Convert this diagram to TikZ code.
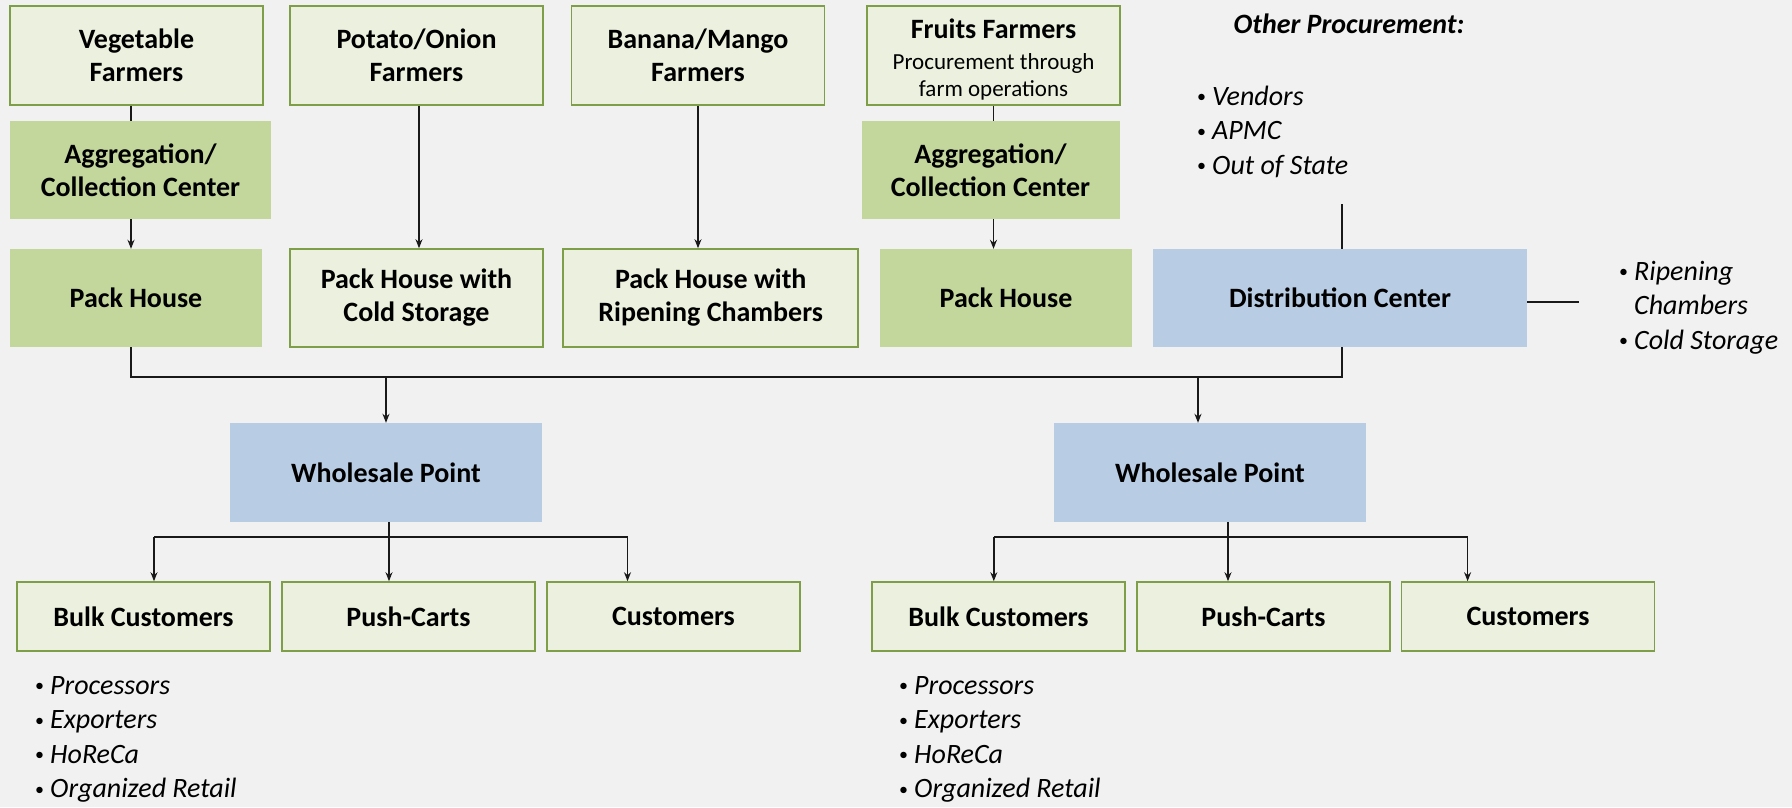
\documentclass[tikz,border=0pt]{standalone}
\usepackage{fontspec}
\setmainfont{Carlito}
\usetikzlibrary{arrows.meta}
\definecolor{bg}{HTML}{F1F1F1}
\definecolor{lgfill}{HTML}{EBF1DE}
\definecolor{lgdraw}{HTML}{7E9E48}
\definecolor{mgfill}{HTML}{C3D69B}
\definecolor{bfill}{HTML}{B8CCE4}
\newcommand\bul{\makebox[17pt][l]{\hspace{2pt}{\fontsize{18}{18}\selectfont\upshape\raisebox{2.5pt}{\textbullet}}}}
\newcommand\nob{\makebox[17pt][l]{}}
\begin{document}
\begin{tikzpicture}[x=1pt,y=-1pt,
  box/.style={rectangle, inner sep=2pt, align=center, font=\fontsize{28}{33}\selectfont\bfseries, text=black},
  lightbox/.style={box, fill=lgfill, draw=lgdraw, line width=1.6pt},
  midbox/.style={box, fill=mgfill},
  bluebox/.style={box, fill=bfill},
  conn/.style={line width=1.4pt, draw=black!90},
  arr/.style={conn, -{Stealth[length=9pt,width=7pt]}},
  blist/.style={inner sep=0pt, anchor=base west, font=\fontsize{28}{34.5}\selectfont\itshape}
]
\path[fill=bg] (0,0) rectangle (1792,807);
\useasboundingbox (0,0) rectangle (1792,807);

% row 1
\node[lightbox, minimum width=253pt, minimum height=99pt] (veg) at (136.5,55.5) {Vegetable\\Farmers};
\node[lightbox, minimum width=253pt, minimum height=99pt] (potato) at (416.5,55.5) {Potato/Onion\\Farmers};
\node[lightbox, minimum width=253pt, minimum height=99pt] (banana) at (698,55.5) {Banana/Mango\\Farmers};
\node[lightbox, minimum width=253pt, minimum height=99pt, font=\fontsize{23}{27.5}\selectfont] (fruits) at (993.5,55.5)
  {\rule{0pt}{28pt}{\fontsize{28}{30}\selectfont\bfseries Fruits Farmers}\\[3pt]Procurement through\\farm operations};

% row 2
\node[midbox, minimum width=261pt, minimum height=98pt] (agg1) at (140.5,170) {Aggregation/\\Collection Center};
\node[midbox, minimum width=258pt, minimum height=98pt] (agg2) at (990.5,170) {Aggregation/\\Collection Center};

% row 3
\node[midbox, minimum width=252pt, minimum height=98pt] (pack1) at (136,298) {Pack House};
\node[lightbox, minimum width=253pt, minimum height=98pt] (packcold) at (416.5,298) {Pack House with\\Cold Storage};
\node[lightbox, minimum width=295pt, minimum height=98pt] (packripen) at (710.75,298) {Pack House with\\Ripening Chambers};
\node[midbox, minimum width=252pt, minimum height=98pt] (pack2) at (1006,298) {Pack House};
\node[bluebox, minimum width=374pt, minimum height=98pt] (dc) at (1340,298) {Distribution Center};

% other procurement
\node[font=\fontsize{28}{33}\selectfont\bfseries\itshape, anchor=base, inner sep=0pt] (othertitle) at (1349,33) {Other Procurement:};
\node[blist] (othlist) at (1195,105) {\begin{tabular}[t]{@{}l@{}}\bul Vendors\\ \bul APMC\\ \bul Out of State\end{tabular}};
\node[blist] (dclist) at (1617,280) {\begin{tabular}[t]{@{}l@{}}\bul Ripening\\ \nob Chambers\\ \bul Cold Storage\end{tabular}};

% wholesale
\node[bluebox, minimum width=312pt, minimum height=99pt] (ws1) at (386,472.5) {Wholesale Point};
\node[bluebox, minimum width=312pt, minimum height=99pt] (ws2) at (1210,472.5) {Wholesale Point};

% bottom
\node[lightbox, minimum width=253pt, minimum height=69pt] (bulk1) at (143.5,616.5) {Bulk Customers};
\node[lightbox, minimum width=253pt, minimum height=69pt] (push1) at (408.5,616.5) {Push-Carts};
\node[lightbox, minimum width=253pt, minimum height=69pt] (cust1) at (673.5,616.5) {Customers};
\node[lightbox, minimum width=253pt, minimum height=69pt] (bulk2) at (998.5,616.5) {Bulk Customers};
\node[lightbox, minimum width=253pt, minimum height=69pt] (push2) at (1263.5,616.5) {Push-Carts};
\node[lightbox, minimum width=253pt, minimum height=69pt] (cust2) at (1528,616.5) {Customers};

\node[blist] (bl1) at (33,694) {\begin{tabular}[t]{@{}l@{}}\bul Processors\\ \bul Exporters\\ \bul HoReCa\\ \bul Organized Retail\end{tabular}};
\node[blist] (bl2) at (897,694) {\begin{tabular}[t]{@{}l@{}}\bul Processors\\ \bul Exporters\\ \bul HoReCa\\ \bul Organized Retail\end{tabular}};

% connectors top
\coordinate (cA) at (131,0);
\coordinate (cB) at (419,0);
\draw[conn] (veg.south -| cA) -- (agg1.north -| cA);
\draw[arr] (agg1.south -| cA) -- (pack1.north -| cA);
\draw[arr] (potato.south -| cB) -- (packcold.north -| cB);
\draw[arr] (banana.south) -- (banana.south |- packripen.north);
\draw[conn] (fruits.south) -- (fruits.south |- agg2.north);
\draw[arr] (fruits.south |- agg2.south) -- (fruits.south |- pack2.north);

\coordinate (procEnd) at (1342,204);
\draw[conn] (procEnd) -- (procEnd |- dc.north);
\coordinate (dcR) at (1579,302);
\draw[conn] (dc.east |- dcR) -- (dcR);

% bus
\coordinate (busL) at (131,377);
\coordinate (busR) at (1342,377);
\draw[conn] (pack1.south -| busL) -- (busL) -- (busR) -- (busR |- dc.south);
\draw[arr] (ws1.north |- busL) -- (ws1.north);
\draw[arr] ([xshift=-12pt]ws2.north |- busL) -- ([xshift=-12pt]ws2.north);

% lower left
\coordinate (l1) at (154,537);
\coordinate (l3) at (627.5,537);
\draw[conn] (l1) -- (l3);
\draw[arr] (l1) -- (l1 |- bulk1.north);
\draw[arr] (l3) -- (l3 |- cust1.north);
\draw[arr] ([xshift=3pt]ws1.south) -- ([xshift=3pt]ws1.south |- push1.north);

% lower right
\coordinate (r1) at (993.8,537);
\coordinate (r3) at (1467.6,537);
\draw[conn] (r1) -- (r3);
\draw[arr] (r1) -- (r1 |- bulk2.north);
\draw[arr] (r3) -- (r3 |- cust2.north);
\draw[arr] ([xshift=18pt]ws2.south) -- ([xshift=18pt]ws2.south |- push2.north);
\end{tikzpicture}
\end{document}
